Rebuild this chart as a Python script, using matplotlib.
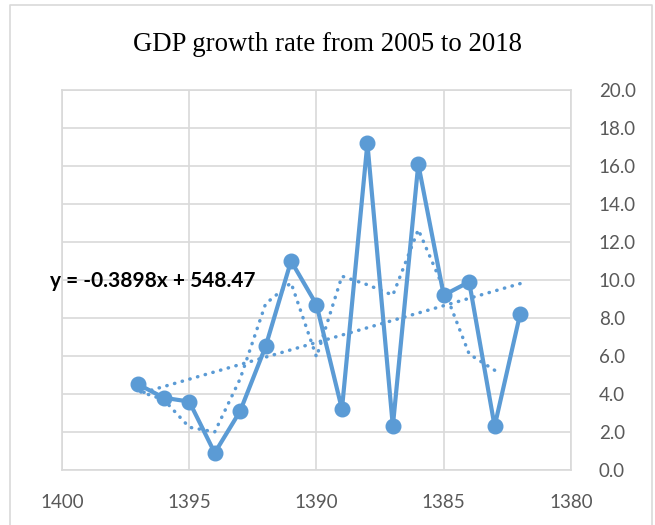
import numpy as np
import pandas as pd
import matplotlib
matplotlib.use("Agg")
import matplotlib.pyplot as plt
from matplotlib.lines import Line2D

# Data (Iranian solar years, GDP growth %)
years = [1397, 1396, 1395, 1394, 1393, 1392, 1391, 1390,
         1389, 1388, 1387, 1386, 1385, 1384, 1383, 1382]
growth = [4.5, 3.8, 3.6, 0.9, 3.1, 6.5, 11.0, 8.7,
          3.2, 17.2, 2.3, 16.1, 9.2, 9.9, 2.3, 8.2]
title = "GDP growth rate from 2005 to 2018"
equation = "y = -0.3898x + 548.47"
x_ticks = [1400, 1395, 1390, 1385, 1380]
y_ticks = [0, 2, 4, 6, 8, 10, 12, 14, 16, 18, 20]

color = "#5B9BD5"
grid_c = "#D9D9D9"
tick_c = "#595959"

fig = plt.figure(figsize=(6.55, 5.25), dpi=100)
# chart-area border (left, top, right; bottom is cut off)
bx0, bx1, by1 = 10 / 655, 652 / 655, 1 - 5 / 525
fig.add_artist(Line2D([bx0, bx0, bx1, bx1], [0, by1, by1, 0], transform=fig.transFigure,
                      color=grid_c, linewidth=1.2))

ax = fig.add_axes([0.0947, 0.1048, 0.777, 0.7238])

# linear trendline
coef = np.polyfit(years, growth, 1)
xs = np.array([min(years), max(years)])
ax.plot(xs, np.polyval(coef, xs), color=color, lw=2.5,
        linestyle=(0, (0.1, 2.2)), dash_capstyle="round", zorder=2)

# 2-period moving average (computed on x-sorted data, as Excel does)
df = pd.DataFrame({"x": years, "y": growth}).sort_values("x")
df["ma"] = df["y"].rolling(2).mean()
ma = df.dropna()
ax.plot(ma["x"], ma["ma"], color=color, lw=2.5,
        linestyle=(0, (0.1, 2.2)), dash_capstyle="round", zorder=2)

# main series
ax.plot(years, growth, color=color, lw=3, marker="o", markersize=10.5,
        markerfacecolor=color, markeredgecolor=color, zorder=3)

ax.set_xlim(1400, 1380)
ax.set_ylim(0, 20)
ax.set_xticks(x_ticks)
ax.set_yticks(y_ticks)
ax.set_yticklabels([f"{v:.1f}" for v in y_ticks])
ax.yaxis.tick_right()
ax.tick_params(axis="both", length=0, labelsize=13.5, labelcolor=tick_c,
               labelfontfamily="Lato")
ax.tick_params(axis="x", pad=17)
ax.tick_params(axis="y", pad=20)
ax.grid(True, color=grid_c, linewidth=1.2)
ax.set_axisbelow(True)
for s in ax.spines.values():
    s.set_color(grid_c)
    s.set_linewidth(1.2)

fig.text(0.5, 0.915, title, ha="center", va="center",
         fontsize=19.3, family="Liberation Serif", color="#000000")
fig.text(50 / 655, 1 - 281 / 525, equation, ha="left", va="center", fontsize=15,
         fontweight="bold", family="Lato", color="#000000")

fig.savefig("out.png", dpi=100)
